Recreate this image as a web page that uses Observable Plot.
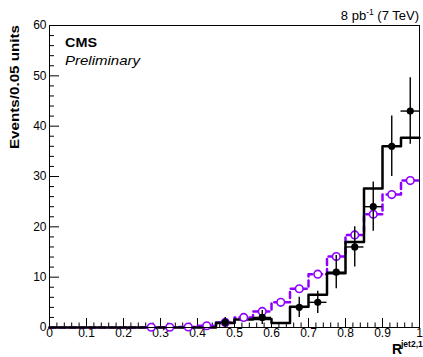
<!DOCTYPE html>
<html><head><meta charset="utf-8">
<script src="https://cdn.jsdelivr.net/npm/d3@7"></script>
<script src="https://cdn.jsdelivr.net/npm/@observablehq/plot@0.6"></script>
<style>body{margin:0;background:#fff;} svg{display:block;}</style>
</head><body><div id="chart"></div>
<script>
// bin lower edges (width 0.05)
const binLow = [0, 0.05, 0.1, 0.15, 0.2, 0.25, 0.3, 0.35, 0.4, 0.45, 0.5, 0.55, 0.6, 0.65, 0.7, 0.75, 0.8, 0.85, 0.9, 0.95];
// black solid histogram (simulation)
const mcBlack = [0, 0, 0, 0, 0, 0, 0, 0, 0, 0.9, 1.6, 1.7, 0.9, 4.1, 6.5, 10.8, 17, 27.6, 36, 37.7];
// purple dashed histogram with open circles
const mcPurple = [0, 0, 0, 0, 0, 0.05, 0.05, 0.1, 0.35, 1.0, 2.0, 3.2, 5.0, 7.7, 10.6, 14.1, 18.4, 22.5, 26.4, 29.2];
// data points
const dataX = [0.475, 0.575, 0.675, 0.725, 0.775, 0.825, 0.875, 0.925, 0.975];
const dataY = [1, 2, 4, 5, 11, 16, 24, 36, 43];
const dataErr = [1, 1.4, 2, 2.2, 3.3, 4, 4.9, 6, 6.6];
// ticks
const yMajor = [0, 10, 20, 30, 40, 50, 60];
const yMinor = [2,4,6,8,12,14,16,18,22,24,26,28,32,34,36,38,42,44,46,48,52,54,56,58];
const xMajor = [0, 0.1, 0.2, 0.3, 0.4, 0.5, 0.6, 0.7, 0.8, 0.9, 1];
const xMinor = [0.02,0.04,0.06,0.08,0.12,0.14,0.16,0.18,0.22,0.24,0.26,0.28,0.32,0.34,0.36,0.38,0.42,0.44,0.46,0.48,0.52,0.54,0.56,0.58,0.62,0.64,0.66,0.68,0.72,0.74,0.76,0.78,0.82,0.84,0.86,0.88,0.92,0.94,0.96,0.98];

const binW = 0.05;
const purple = "#8f00ff";
const histBlack = binLow.map((x, i) => ({x, y: mcBlack[i]})).concat([{x: 1, y: mcBlack[mcBlack.length - 1]}]);
const histPurple = binLow.map((x, i) => ({x, y: mcPurple[i]})).concat([{x: 1, y: mcPurple[mcPurple.length - 1]}]);
const purplePts = binLow.map((x, i) => ({x: x + binW / 2, y: mcPurple[i]})).filter(d => d.y > 0);
const dataPts = dataX.map((x, i) => ({x, y: dataY[i], e: dataErr[i]}));

const W = 423, H = 357, mL = 49, mR = 4, mT = 25, mB = 30;
const font = "'Liberation Sans', Arial, Helvetica, sans-serif";

const chart = Plot.plot({
  width: W, height: H,
  marginLeft: mL, marginRight: mR, marginTop: mT, marginBottom: mB,
  x: {domain: [0, 1]},
  y: {domain: [0, 60]},
  style: {fontFamily: font, fontSize: "12px", color: "#000", background: "#fff", overflow: "visible"},
  marks: [
    Plot.axisY(yMajor, {tickSize: -10, tickPadding: 13, label: null, tickFormat: d => String(d)}),
    Plot.axisY(yMinor, {tickSize: -5, label: null, tickFormat: () => ""}),
    Plot.axisX(xMajor, {tickSize: -9, tickPadding: 10, label: null, tickFormat: d => (d === 0 || d === 1) ? String(d) : d.toFixed(1)}),
    Plot.axisX(xMinor, {tickSize: -4.5, label: null, tickFormat: () => ""}),
    Plot.line(histPurple, {x: "x", y: "y", curve: "step-after", stroke: purple, strokeWidth: 2.5, strokeDasharray: "6,4"}),
    Plot.line(histBlack, {x: "x", y: "y", curve: "step-after", stroke: "black", strokeWidth: 2.5}),
    Plot.dot(purplePts, {x: "x", y: "y", r: 3.8, stroke: purple, fill: "white", strokeWidth: 1.6}),
    Plot.ruleY(dataPts, {y: "y", x1: d => d.x - binW / 2, x2: d => d.x + binW / 2, stroke: "black", strokeWidth: 1.4}),
    Plot.ruleX(dataPts, {x: "x", y1: d => Math.max(0, d.y - d.e), y2: d => d.y + d.e, stroke: "black", strokeWidth: 1.4}),
    Plot.dot(dataPts, {x: "x", y: "y", r: 3.6, fill: "black"}),
    Plot.frame({stroke: "black", strokeWidth: 1})
  ]
});
document.getElementById("chart").appendChild(chart);

const svg = d3.select(chart);
function addText(x, y, str, opts) {
  const t = svg.append("text").attr("x", x).attr("y", y).text(str)
    .attr("font-family", font).attr("font-size", opts.size || 12)
    .attr("font-weight", opts.weight || "normal").attr("font-style", opts.style || "normal")
    .attr("text-anchor", opts.anchor || "start").attr("fill", "black");
  if (opts.len) t.attr("textLength", opts.len).attr("lengthAdjust", "spacingAndGlyphs");
  if (opts.transform) t.attr("transform", opts.transform);
  return t;
}
// top right luminosity label
const lum = svg.append("text").attr("x", W - mR).attr("y", 20).attr("text-anchor", "end")
  .attr("font-family", font).attr("font-size", 13).attr("fill", "black");
lum.append("tspan").text("8 pb");
lum.append("tspan").attr("font-size", 8.5).attr("dy", -5).text("-1");
lum.append("tspan").attr("dy", 5).text(" (7 TeV)");

addText(65, 47, "CMS", {size: 13, weight: "bold", len: 32});
addText(65, 65, "Preliminary", {size: 13, style: "italic", len: 75});
// y axis title
addText(0, 0, "Events/0.05 units", {size: 13, weight: "bold", anchor: "end", len: 124, transform: `translate(19,${mT}) rotate(-90)`});
// x axis title
addText(392, 354, "R", {size: 14, weight: "bold"});
addText(401, 347, "jet2,1", {size: 8.5, weight: "bold"});
</script>
</body></html>
